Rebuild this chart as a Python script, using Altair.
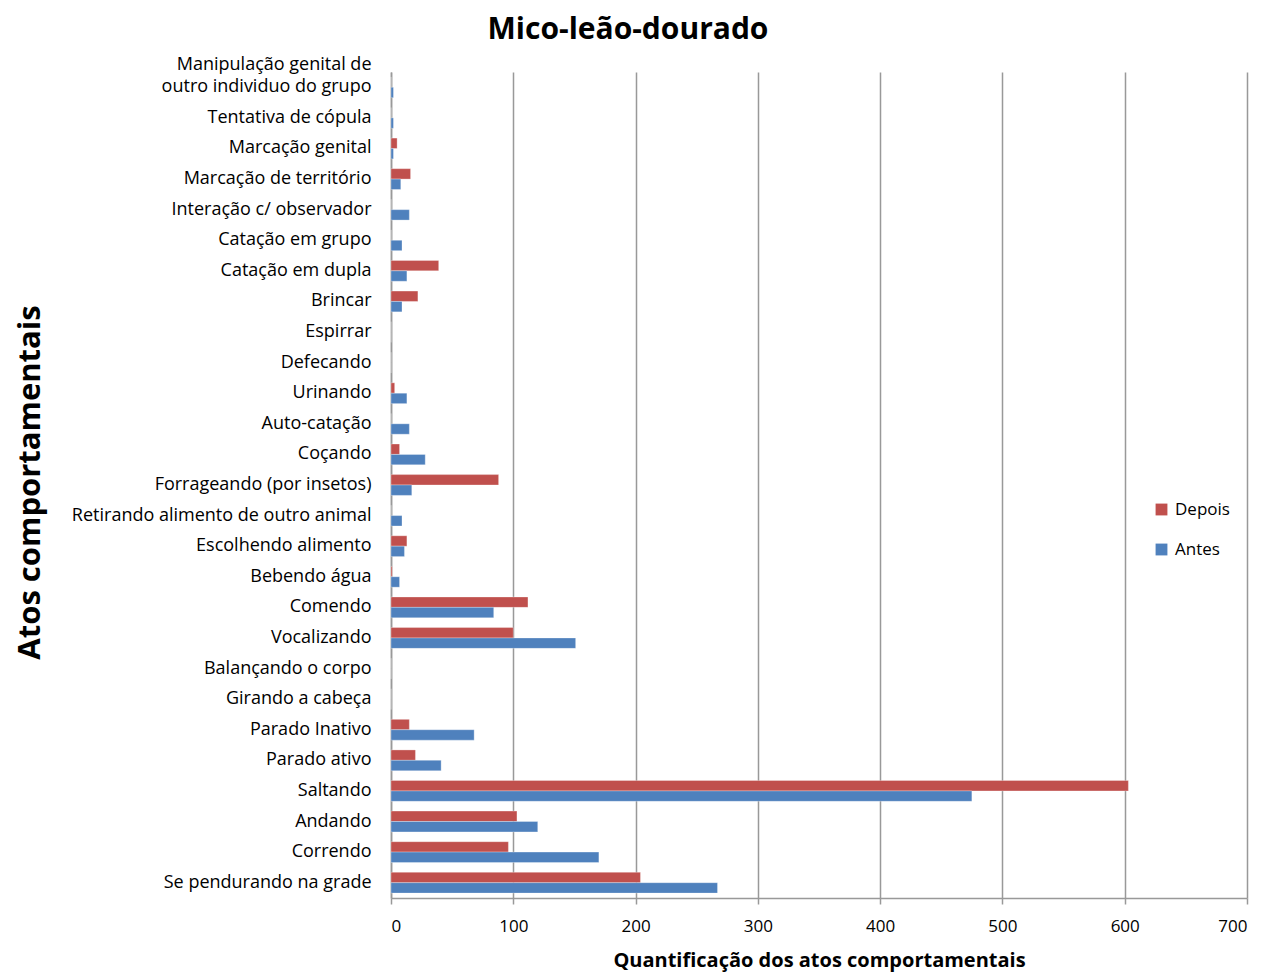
import altair as alt
import pandas as pd

categories = [
    "Manipulação genital de|outro individuo do grupo",
    "Tentativa de cópula",
    "Marcação genital",
    "Marcação de território",
    "Interação c/ observador",
    "Catação em grupo",
    "Catação em dupla",
    "Brincar",
    "Espirrar",
    "Defecando",
    "Urinando",
    "Auto-catação",
    "Coçando",
    "Forrageando (por insetos)",
    "Retirando alimento de outro animal",
    "Escolhendo alimento",
    "Bebendo água",
    "Comendo",
    "Vocalizando",
    "Balançando o corpo",
    "Girando a cabeça",
    "Parado Inativo",
    "Parado ativo",
    "Saltando",
    "Andando",
    "Correndo",
    "Se pendurando na grade",
]
depois = [0, 0, 5, 16, 0, 0, 39, 22, 0, 0, 3, 0, 7, 88, 0, 13, 1, 112, 100, 0, 0, 15, 20, 603, 103, 96, 204]
antes = [2, 2, 2, 8, 15, 9, 13, 9, 0, 0, 13, 15, 28, 17, 9, 11, 7, 84, 151, 0, 0, 68, 41, 475, 120, 170, 267]
series = ["Depois", "Antes"]
colors = ["#C0504D", "#4F81BD"]

rows = []
for c, d, a in zip(categories, depois, antes):
    rows.append({"cat": c, "serie": "Depois", "valor": d})
    rows.append({"cat": c, "serie": "Antes", "valor": a})
df = pd.DataFrame(rows)

FONT = "Open Sans"

chart = alt.Chart(df).mark_bar(stroke="white", strokeWidth=0.5, strokeOpacity=0.6).encode(
    y=alt.Y("cat:N", sort=categories,
            scale=alt.Scale(paddingInner=0.32, paddingOuter=0.16),
            axis=alt.Axis(title="Atos comportamentais", labelExpr="split(datum.value, '|')",
                          labelFontSize=18, labelFont=FONT, labelColor="#000000",
                          labelLimit=500,
                          labelOffset={"condition": {"test": "indexof(datum.value, '|') >= 0", "value": -22}, "value": 0},
                          labelPadding=20, ticks=False, domain=True, domainColor="#999999",
                          domainWidth=1.5, labelLineHeight=22,
                          titleFontSize=31, titleFont=FONT, titleFontWeight="bold",
                          titleColor="#000000", titleX=-361, titleY=410, titleAngle=-90,
                          titleAlign="center", titleBaseline="middle")),
    yOffset=alt.YOffset("serie:N", sort=series),
    x=alt.X("valor:Q", scale=alt.Scale(domain=[0, 700], nice=False),
            axis=alt.Axis(title="Quantificação dos atos comportamentais", values=list(range(0, 701, 100)),
                          labelFontSize=17, labelFont=FONT, labelColor="#000000",
                          tickSize=6, tickColor="#999999", tickWidth=1.5,
                          domainColor="#999999", domainWidth=1.5, labelPadding=14,
                          grid=True, gridColor="#999999", gridWidth=1.5,
                          titleFontSize=20, titleFont=FONT, titleFontWeight="bold",
                          titleColor="#000000", titlePadding=16)),
    color=alt.Color("serie:N", sort=series,
                    scale=alt.Scale(domain=series, range=colors),
                    legend=alt.Legend(title=None, orient="none", legendX=762, legendY=429,
                                      labelFontSize=17, labelFont=FONT, labelColor="#000000",
                                      symbolType="square", symbolSize=140, symbolStrokeWidth=0,
                                      rowPadding=22, labelOffset=5)),
).properties(
    width=856,
    height=826,
    title=alt.TitleParams("Mico-leão-dourado", fontSize=30, font=FONT, fontWeight="bold",
                          color="#000000", anchor="middle", dx=-191, offset=11),
    autosize=alt.AutoSizeParams(type="none"),
    padding={"left": 383, "top": 64, "right": 20, "bottom": 86},
).configure_view(stroke=None)

chart.save("out.html", embed_options={"renderer": "svg", "actions": False})
